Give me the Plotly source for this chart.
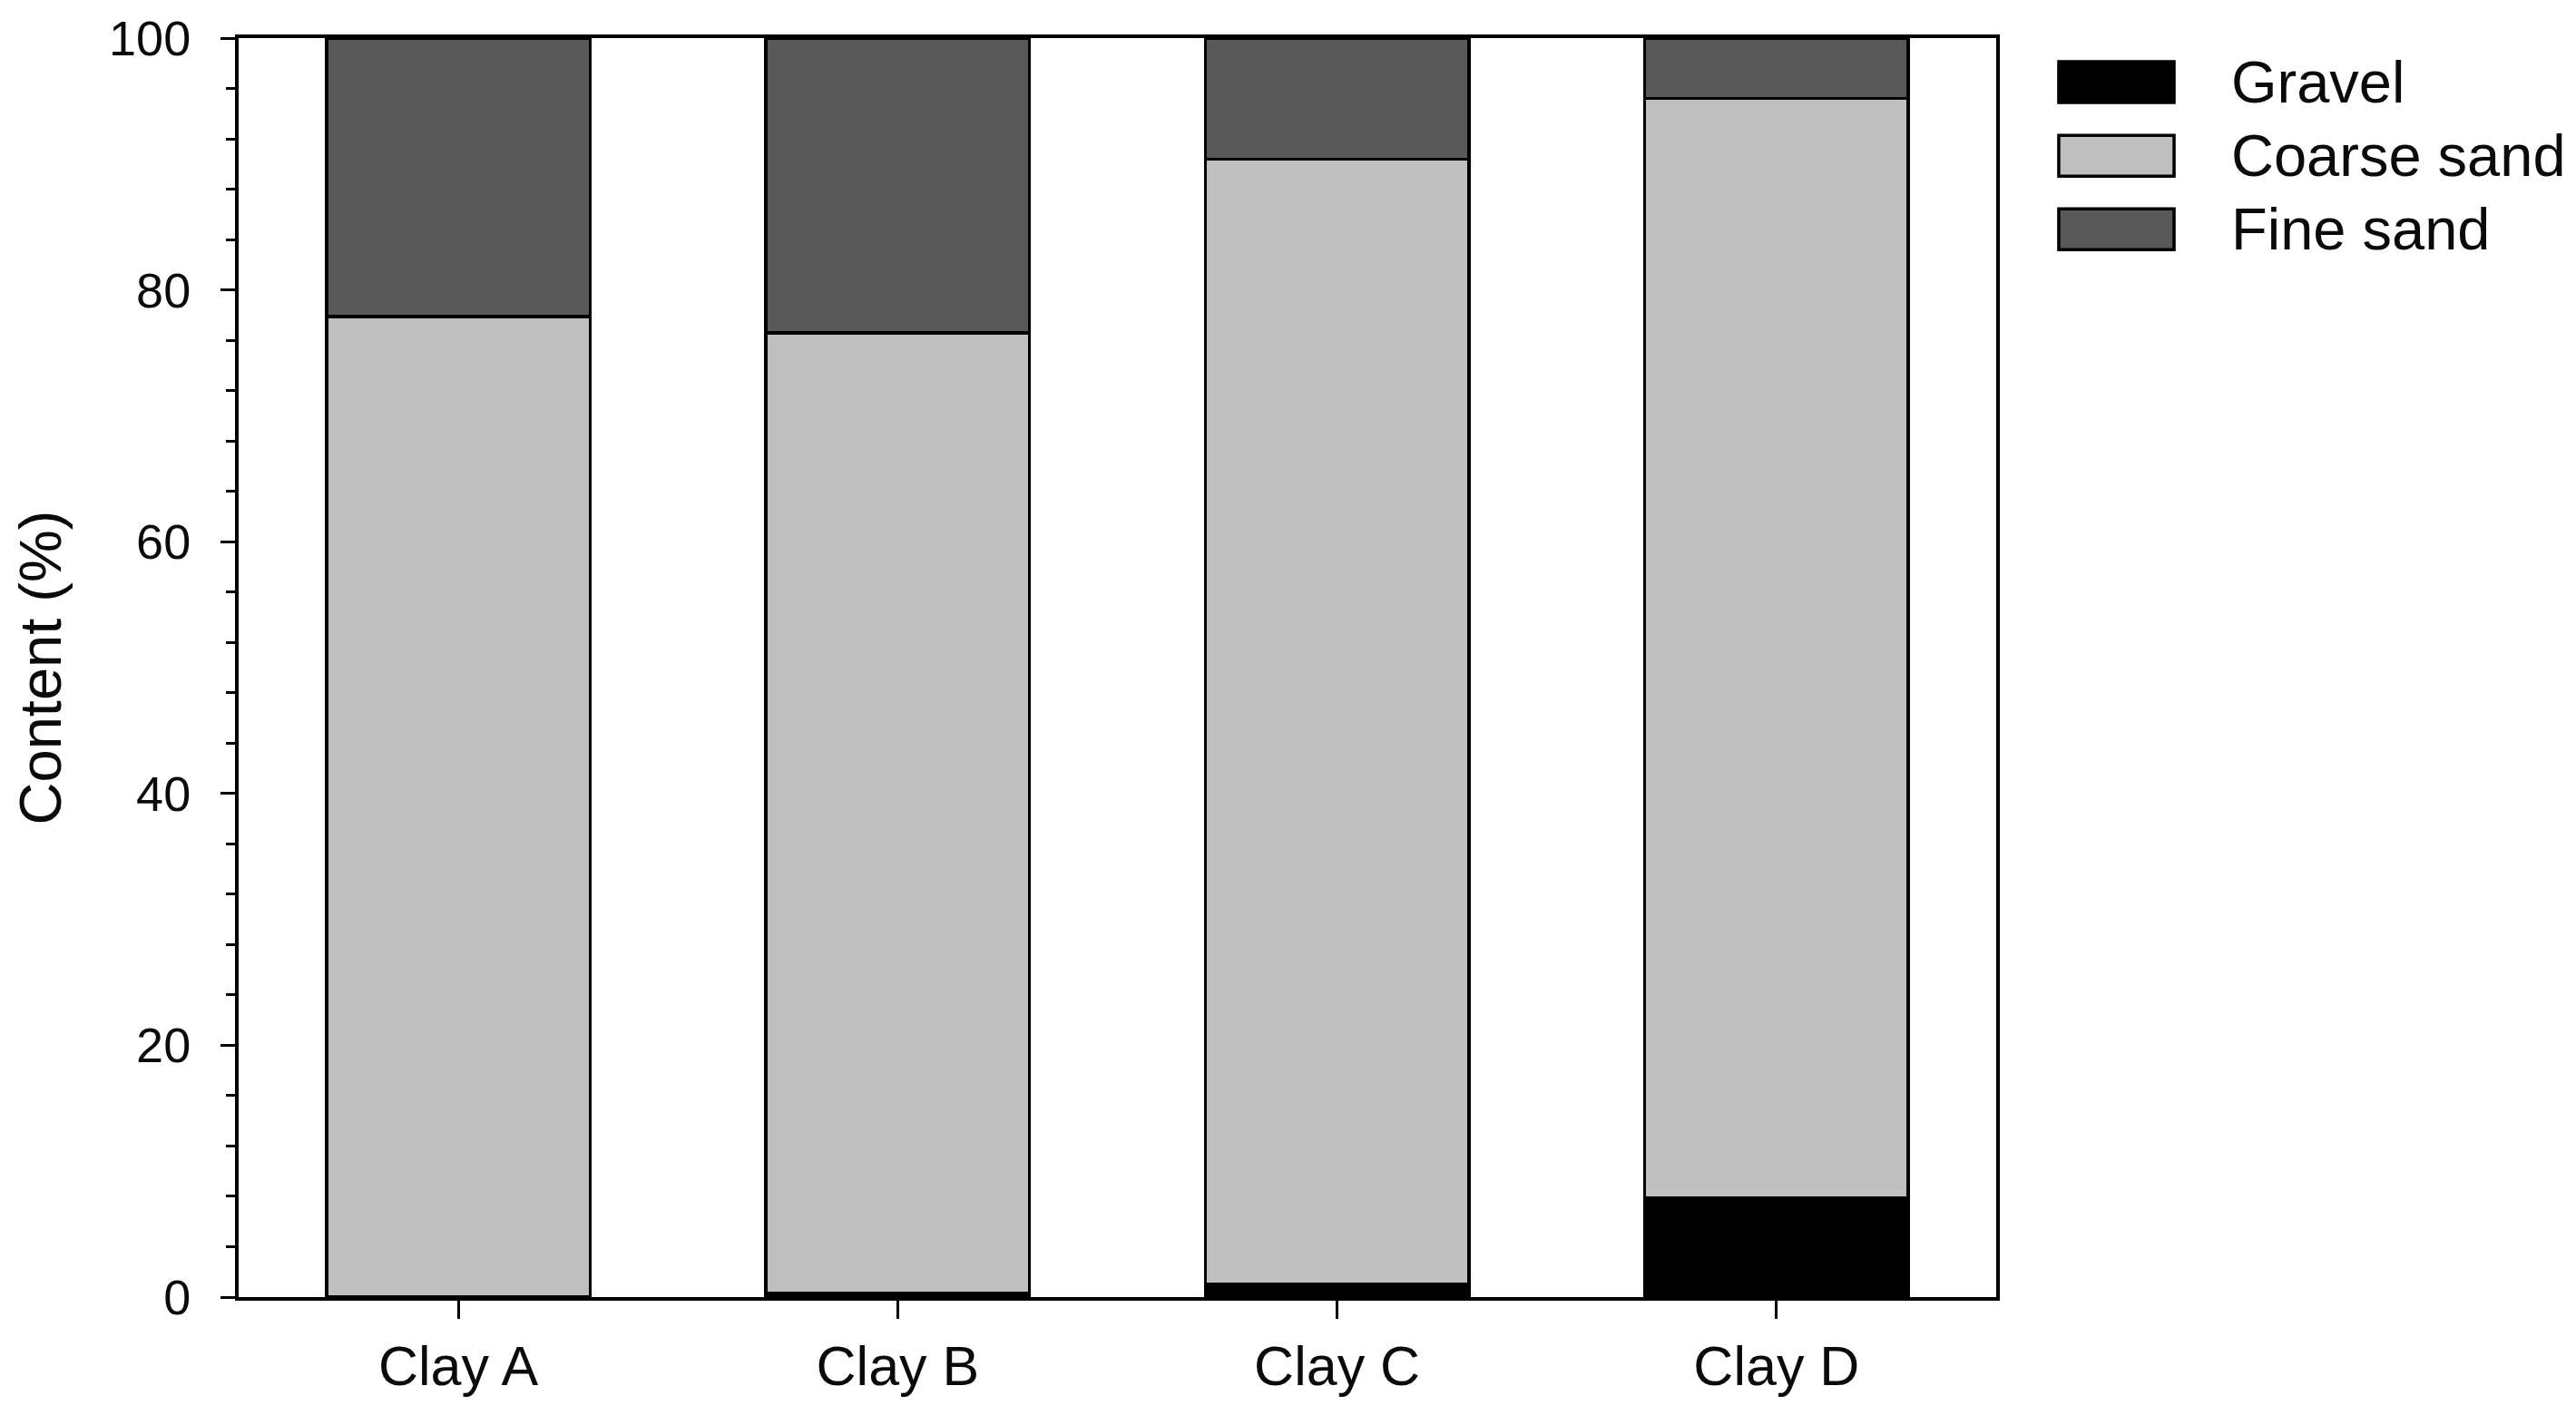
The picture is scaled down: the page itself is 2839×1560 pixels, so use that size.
import plotly.graph_objects as go

categories = ["Clay A", "Clay B", "Clay C", "Clay D"]
gravel = [0.0, 0.3, 1.0, 7.9]
coarse_sand = [77.9, 76.3, 89.4, 87.3]
fine_sand = [22.1, 23.4, 9.6, 4.8]

series_names = ["Gravel", "Coarse sand", "Fine sand"]
series_values = [gravel, coarse_sand, fine_sand]
series_colors = ["#000000", "#c0c0c0", "#595959"]

FONT = "Liberation Sans, Arial, sans-serif"

fig = go.Figure()
for name, vals, col in zip(series_names, series_values, series_colors):
    fig.add_trace(go.Bar(
        x=categories, y=vals, name=name,
        marker=dict(color=col, line=dict(color="#000000", width=3.5)),
        width=0.6, showlegend=False,
    ))

# manual legend (large swatches like the reference)
leg_x0, leg_x1, leg_tx = 1.0356, 1.1012, 1.1327
leg_rows = [0.9650, 0.9065, 0.8481]
half_h = 0.0162
for name, col, yc in zip(series_names, series_colors, leg_rows):
    fig.add_shape(type="rect", xref="paper", yref="paper",
                  x0=leg_x0, x1=leg_x1, y0=yc - half_h, y1=yc + half_h,
                  fillcolor=col, line=dict(color="#000000", width=3.5))
    fig.add_annotation(xref="paper", yref="paper", x=leg_tx, y=yc,
                       text=name, showarrow=False, xanchor="left", yanchor="middle",
                       font=dict(family=FONT, size=65, color="#0a0a0a"))

fig.update_layout(
    width=2839, height=1560,
    margin=dict(l=255, r=647, t=34, b=138, autoexpand=False),
    paper_bgcolor="white", plot_bgcolor="white",
    barmode="stack",
    font=dict(family=FONT, size=56, color="#0a0a0a"),
)
fig.update_xaxes(
    range=[-0.5, 3.5], showgrid=False, zeroline=False, automargin=False,
    showline=True, linecolor="#000000", linewidth=4, mirror=True,
    ticks="outside", ticklen=20, tickwidth=3, tickcolor="#000000",
    tickfont=dict(family=FONT, size=61, color="#0a0a0a"),
)
fig.update_yaxes(
    range=[0, 100], showgrid=False, zeroline=False, automargin=False,
    showline=True, linecolor="#000000", linewidth=4, mirror=True,
    tickmode="array", tickvals=[0, 20, 40, 60, 80, 100],
    ticktext=["0", "20", "40", "60", "80", "100"],
    ticks="outside", ticklen=16, tickwidth=3, tickcolor="#000000",
    ticklabelstandoff=22, ticklabeloverflow="allow",
    minor=dict(ticks="outside", ticklen=10, tickwidth=2.5, tickcolor="#000000", dtick=4, showgrid=False),
    tickfont=dict(family=FONT, size=54, color="#0a0a0a"),
    title=dict(text="Content (%)", font=dict(family=FONT, size=65, color="#0a0a0a"), standoff=36),
)

fig.write_html("out.html")
